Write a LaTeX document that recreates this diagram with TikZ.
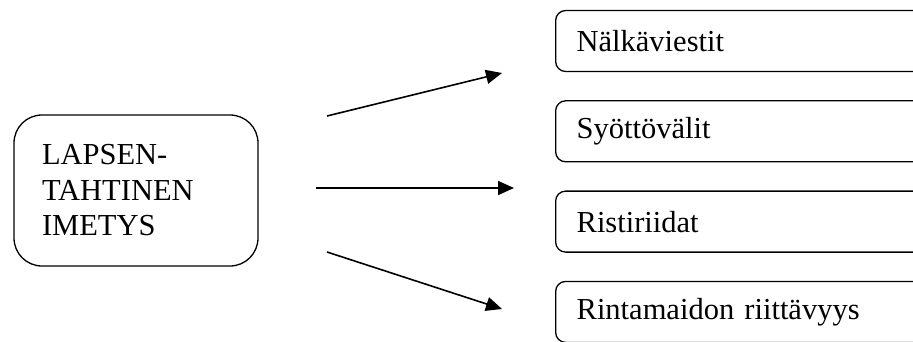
\documentclass[tikz,border=0pt]{standalone}
\usepackage{fontspec}
\setmainfont{Liberation Serif}
\usetikzlibrary{positioning, arrows.meta}
\tikzset{
    >={Triangle[length=16pt,width=14pt]}, % filled arrow heads
    every node/.style={font=\fontsize{30.5}{35.5}\selectfont},
    mainbox/.style={draw, line width=1.3pt, rounded corners=28pt, minimum width=244pt, minimum height=151pt, text width=188pt, align=left},
    topicbox/.style={draw, line width=1.3pt, rounded corners=10pt, minimum height=61pt, inner xsep=21pt, text width=328pt, align=left},
    link/.style={->, line width=1.6pt},
    node distance=28pt, % gap between the boxes on the right
}
\begin{document}
\begin{tikzpicture}[x=1pt, y=1pt]
    \useasboundingbox (0,0) rectangle (913,-341);
    \node[mainbox] (lapsi) at (136,-190.5) {LAPSEN-\\TAHTINEN\\IMETYS};
    \node[topicbox, anchor=west] (nalka) at (555,-41) {Nälkäviestit};
    \node[topicbox, below=of nalka] (syotto) {Syöttövälit};
    \node[topicbox, below=of syotto] (ristiriita) {Ristiriidat};
    \node[topicbox, below=of ristiriita] (riitto) {Rintamaidon riittävyys};
    % arrow ends
    \coordinate (ylos) at (327,-116);
    \coordinate (ylosk) at (502,-73);
    \coordinate (suoraan) at (316,-188);
    \coordinate (suoraank) at (514,-188);
    \coordinate (alas) at (327,-252);
    \coordinate (alask) at (502,-309);
    \draw[link] (ylos) -- (ylosk);
    \draw[link] (suoraan) -- (suoraank);
    \draw[link] (alas) -- (alask);
\end{tikzpicture}
\end{document}
